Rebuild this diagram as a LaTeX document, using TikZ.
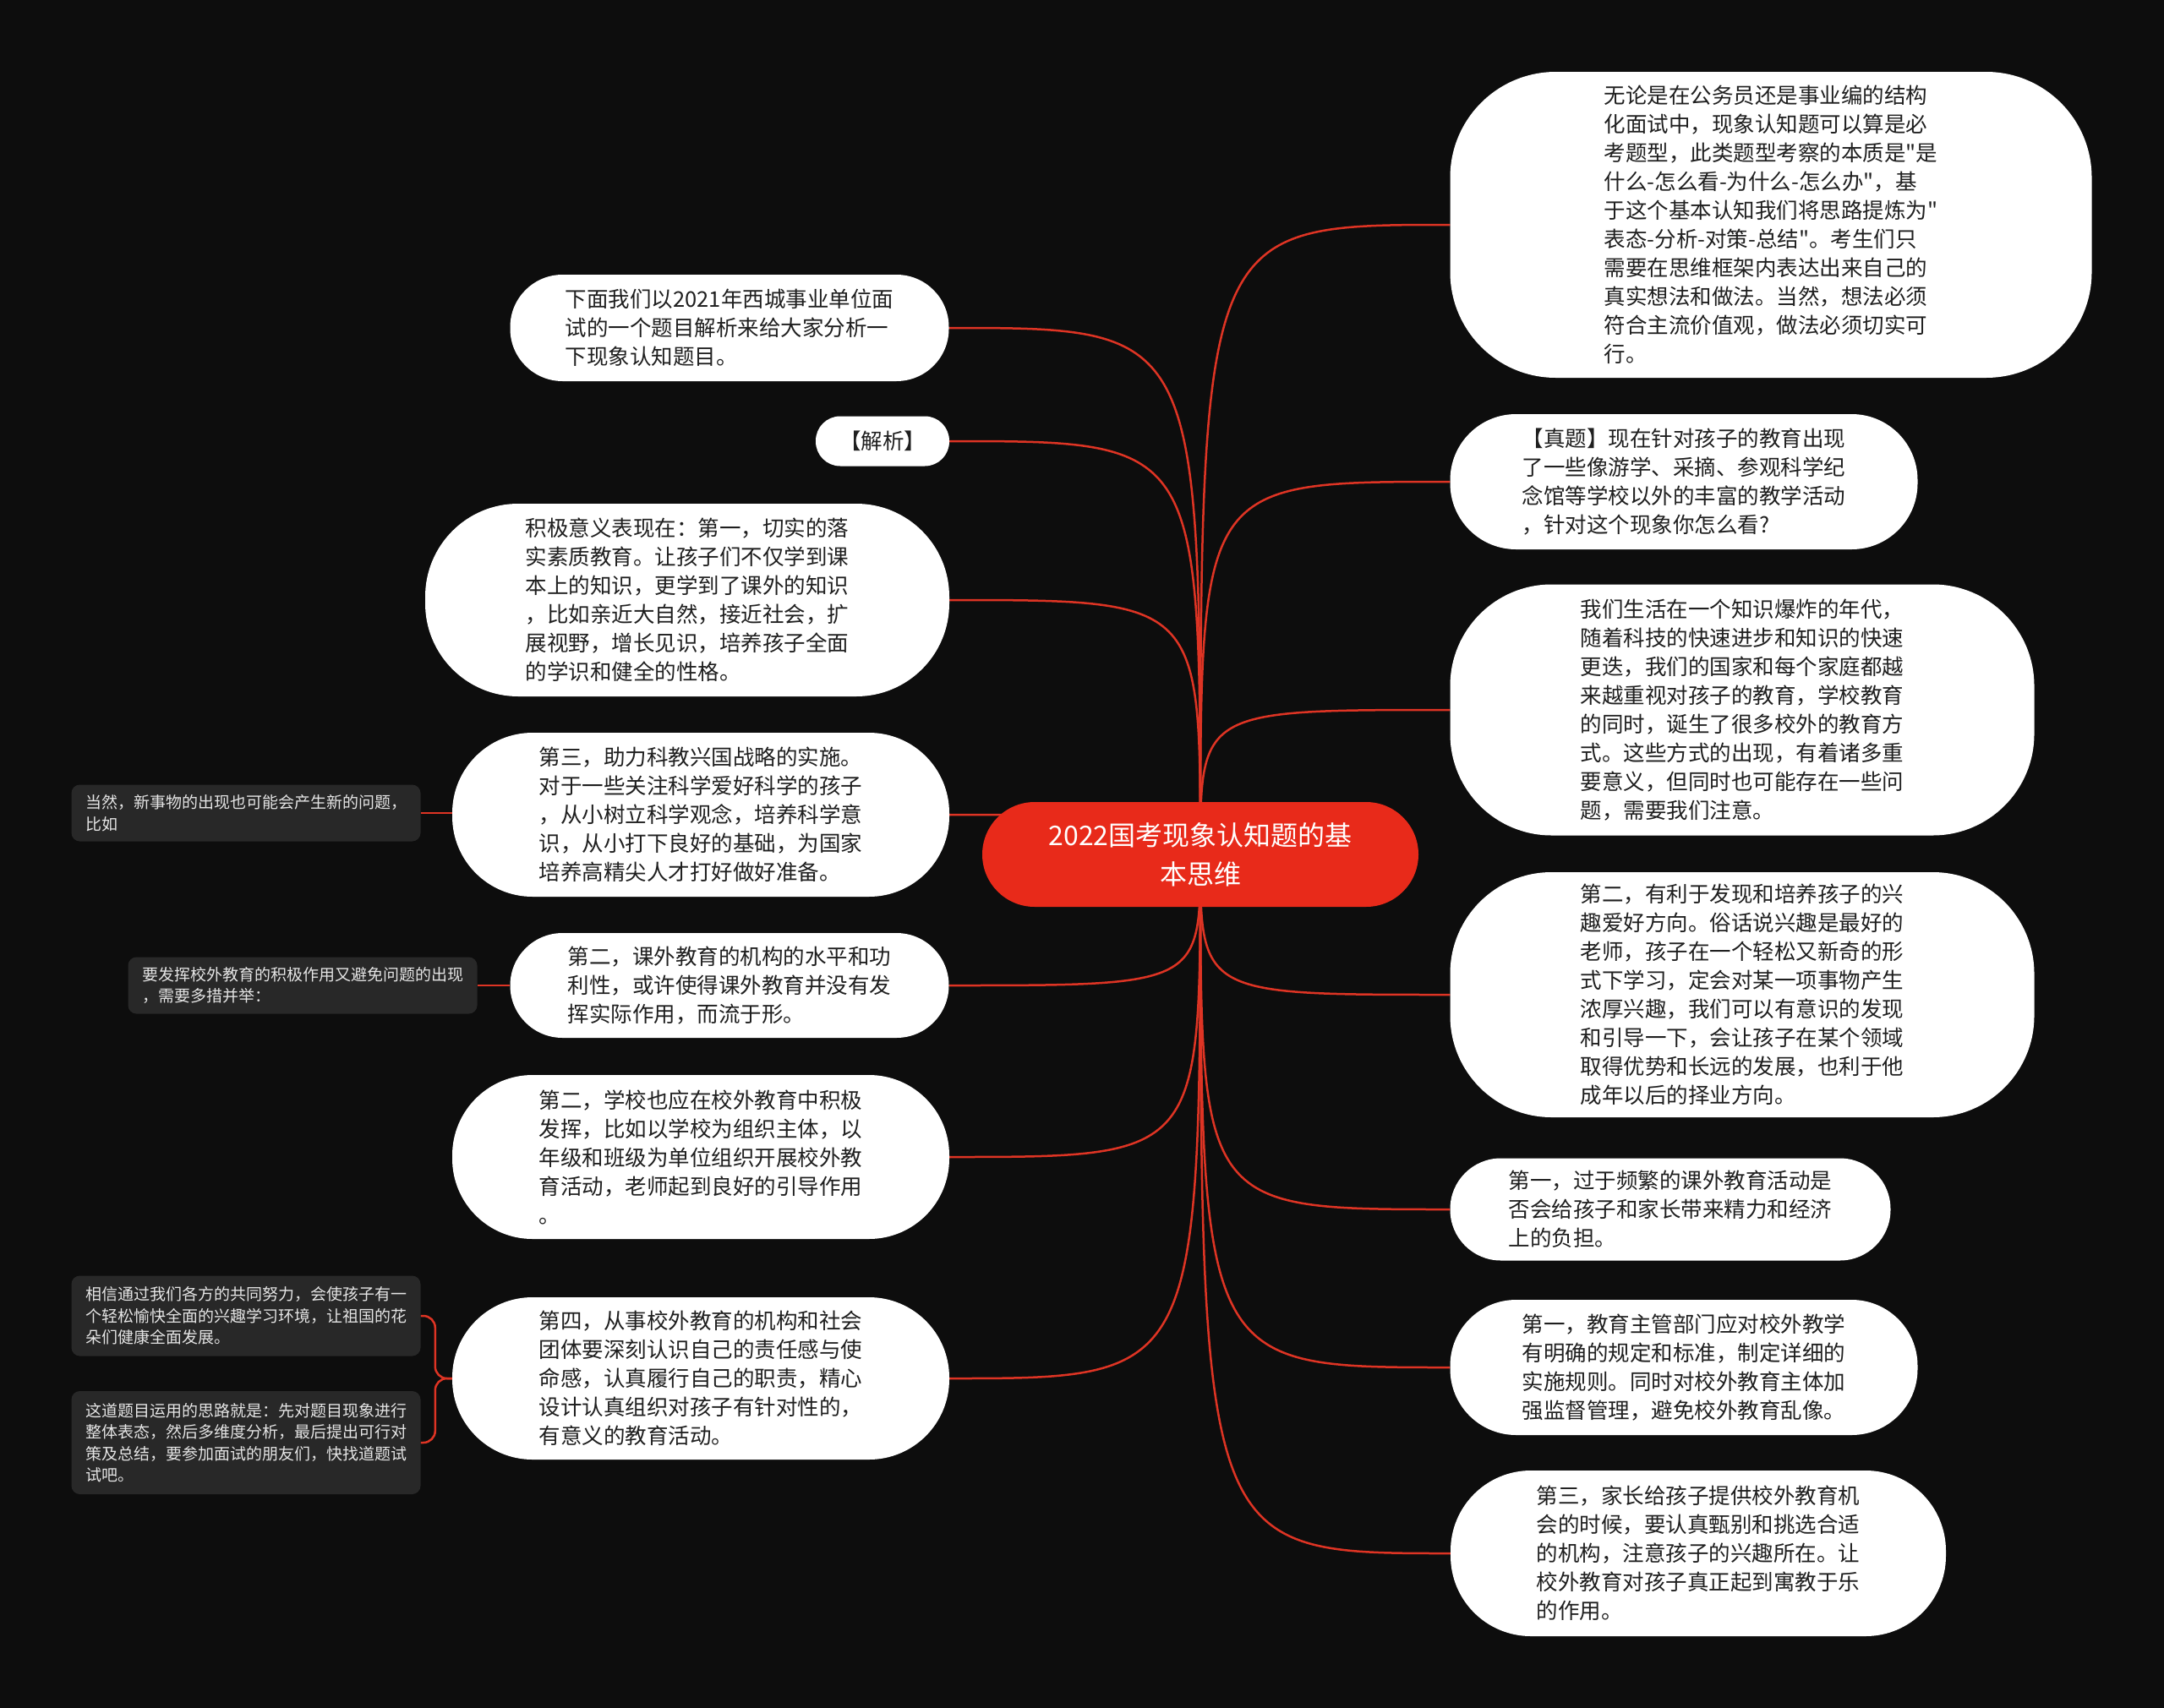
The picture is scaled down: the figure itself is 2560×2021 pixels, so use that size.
\documentclass[tikz,border=0pt]{standalone}
\usepackage{fontspec}
\newfontfamily\mapfont{Noto Sans CJK SC}
\usetikzlibrary{backgrounds}
\definecolor{bgdark}{RGB}{13,13,13}
\definecolor{mapred}{RGB}{232,42,26}
\definecolor{linered}{RGB}{222,52,36}
\definecolor{notegray}{RGB}{40,40,40}

\begin{document}
\begin{tikzpicture}[x=1pt,y=-1pt,
    bubble/.style={fill=white, text=black!88, align=left, inner sep=0pt, rounded corners=#1, font=\mapfont\fontsize{25.5}{34}\selectfont},
    note/.style={fill=notegray, text=white!90!black, align=left, inner sep=0pt, rounded corners=10pt, font=\mapfont\fontsize{19}{25.5}\selectfont},
    link/.style={draw=linered, line width=2.5pt}]
    % centre
    \node[fill=mapred, text=white, align=center, rounded corners=62pt, minimum width=516pt, minimum height=124pt, font=\mapfont\fontsize{32}{46}\selectfont] (root) at (1420,1011) {2022国考现象认知题的基\\本思维};
    % right side
    \node[bubble=125pt, minimum width=759pt, minimum height=362pt] (r1) at (2095,266) {无论是在公务员还是事业编的结构\\化面试中，现象认知题可以算是必\\考题型，此类题型考察的本质是"是\\什么-怎么看-为什么-怎么办"，基\\于这个基本认知我们将思路提炼为"\\表态-分析-对策-总结"。考生们只\\需要在思维框架内表达出来自己的\\真实想法和做法。当然，想法必须\\符合主流价值观，做法必须切实可\\行。};
    \node[bubble=78pt, minimum width=553pt, minimum height=160pt] (r2) at (1992,570) {【真题】现在针对孩子的教育出现\\了一些像游学、采摘、参观科学纪\\念馆等学校以外的丰富的教学活动\\，针对这个现象你怎么看?};
    \node[bubble=120pt, minimum width=691pt, minimum height=297pt] (r3) at (2061,840) {我们生活在一个知识爆炸的年代，\\随着科技的快速进步和知识的快速\\更迭，我们的国家和每个家庭都越\\来越重视对孩子的教育，学校教育\\的同时，诞生了很多校外的教育方\\式。这些方式的出现，有着诸多重\\要意义，但同时也可能存在一些问\\题，需要我们注意。};
    \node[bubble=120pt, minimum width=691pt, minimum height=290pt] (r4) at (2061,1177) {第二，有利于发现和培养孩子的兴\\趣爱好方向。俗话说兴趣是最好的\\老师，孩子在一个轻松又新奇的形\\式下学习，定会对某一项事物产生\\浓厚兴趣，我们可以有意识的发现\\和引导一下，会让孩子在某个领域\\取得优势和长远的发展，也利于他\\成年以后的择业方向。};
    \node[bubble=60pt, minimum width=521pt, minimum height=121pt] (r5) at (1976,1431) {第一，过于频繁的课外教育活动是\\否会给孩子和家长带来精力和经济\\上的负担。};
    \node[bubble=78pt, minimum width=553pt, minimum height=160pt] (r6) at (1992,1618) {第一，教育主管部门应对校外教学\\有明确的规定和标准，制定详细的\\实施规则。同时对校外教育主体加\\强监督管理，避免校外教育乱像。};
    \node[bubble=95pt, minimum width=586pt, minimum height=196pt] (r7) at (2009,1838) {第三，家长给孩子提供校外教育机\\会的时候，要认真甄别和挑选合适\\的机构，注意孩子的兴趣所在。让\\校外教育对孩子真正起到寓教于乐\\的作用。};
    % left side
    \node[bubble=62pt, minimum width=519pt, minimum height=126pt] (l1) at (863,388) {下面我们以2021年西城事业单位面\\试的一个题目解析来给大家分析一\\下现象认知题目。};
    \node[bubble=29pt, minimum width=158pt, minimum height=59pt] (l2) at (1044,522) {【解析】};
    \node[bubble=110pt, minimum width=620pt, minimum height=228pt] (l3) at (813,710) {积极意义表现在：第一，切实的落\\实素质教育。让孩子们不仅学到课\\本上的知识，更学到了课外的知识\\，比如亲近大自然，接近社会，扩\\展视野，增长见识，培养孩子全面\\的学识和健全的性格。};
    \node[bubble=95pt, minimum width=588pt, minimum height=194pt] (l4) at (829,964) {第三，助力科教兴国战略的实施。\\对于一些关注科学爱好科学的孩子\\，从小树立科学观念，培养科学意\\识，从小打下良好的基础，为国家\\培养高精尖人才打好做好准备。};
    \node[bubble=62pt, minimum width=519pt, minimum height=124pt] (l5) at (863,1166) {第二，课外教育的机构的水平和功\\利性，或许使得课外教育并没有发\\挥实际作用，而流于形。};
    \node[bubble=95pt, minimum width=588pt, minimum height=194pt] (l6) at (829,1369) {第二，学校也应在校外教育中积极\\发挥，比如以学校为组织主体，以\\年级和班级为单位组织开展校外教\\育活动，老师起到良好的引导作用\\。};
    \node[bubble=95pt, minimum width=588pt, minimum height=192pt] (l7) at (829,1631) {第四，从事校外教育的机构和社会\\团体要深刻认识自己的责任感与使\\命感，认真履行自己的职责，精心\\设计认真组织对孩子有针对性的，\\有意义的教育活动。};
    % notes
    \node[note, minimum width=413pt, minimum height=67pt] (g1) at (291,962) {当然，新事物的出现也可能会产生新的问题，\\比如};
    \node[note, minimum width=413pt, minimum height=67pt] (g2) at (358,1166) {要发挥校外教育的积极作用又避免问题的出现\\，需要多措并举：};
    \node[note, minimum width=413pt, minimum height=95pt] (g3) at (291,1557) {相信通过我们各方的共同努力，会使孩子有一\\个轻松愉快全面的兴趣学习环境，让祖国的花\\朵们健康全面发展。};
    \node[note, minimum width=413pt, minimum height=122pt] (g4) at (291,1707) {这道题目运用的思路就是：先对题目现象进行\\整体表态，然后多维度分析，最后提出可行对\\策及总结，要参加面试的朋友们，快找道题试\\试吧。};
    \begin{scope}[on background layer]
        \fill[bgdark] (0,0) rectangle (2560,2021);
        \foreach \n in {r1,r2,r3,r4,r5,r6,r7}
            \draw[link] (root.center) .. controls (root.center |- \n.west) .. (\n.west);
        \foreach \n in {l1,l2,l3,l4,l5,l6,l7}
            \draw[link] (root.center) .. controls (root.center |- \n.east) .. (\n.east);
        \draw[link] (g1.east) -- (g1.east -| l4.west);
        \draw[link] (g2.east) -- (g2.east -| l5.west);
        \draw[link, rounded corners=14pt] (l7.west) -- ++(-20,0) |- (g3.east);
        \draw[link, rounded corners=14pt] (l7.west) -- ++(-20,0) |- (g4.east);
    \end{scope}
\end{tikzpicture}
\end{document}
